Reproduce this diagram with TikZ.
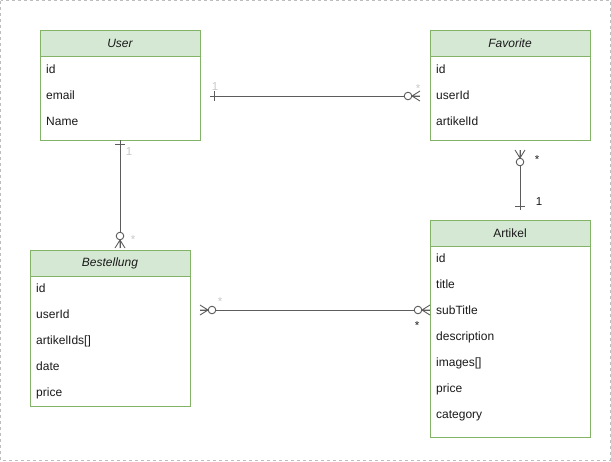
\documentclass[tikz,border=0pt]{standalone}
\usepackage{fontspec}
\setmainfont{Liberation Sans}
\usetikzlibrary{calc}

\definecolor{hdrfill}{HTML}{D5E8D4}
\definecolor{hdrline}{HTML}{82B366}
\definecolor{edgecol}{HTML}{5C5C5C}
\definecolor{faint}{HTML}{C8C8C8}
\definecolor{ink}{HTML}{1A1A1A}
\definecolor{frame}{HTML}{BDBDBD}

\tikzset{
  entbox/.style={draw=hdrline, line width=1pt, fill=white, rectangle,
    anchor=north west, inner sep=0pt, outer sep=0pt, minimum width=160pt},
  enthead/.style={draw=hdrline, line width=1pt, fill=hdrfill, rectangle,
    anchor=north west, inner sep=0pt, outer sep=0pt, minimum width=160pt,
    minimum height=26pt, text=ink, font=\fontsize{12}{14}\selectfont},
  fieldtext/.style={anchor=west, inner sep=0pt, text=ink,
    text height=8.6pt, text depth=2.6pt, yshift=-0.8pt,
    font=\fontsize{12}{14}\selectfont},
  edgeline/.style={draw=edgecol, line width=0.9pt},
  card/.style={inner sep=0pt, font=\fontsize{11.5}{13}\selectfont},
  pics/zeromany/.style={code={
    \draw[edgeline] (-8,0) -- (0,5) (-8,0) -- (0,-5) (-8,0) -- (0,0);
    \draw[edgeline, fill=white] (-12,0) circle[radius=3.8];}},
  pics/exactlyone/.style={code={
    \draw[edgeline] (-4,-5) -- (-4,5);}}
}

% entity box: name, x, y, height, title
\newcommand\entity[5]{%
  \node[entbox, minimum height=#4pt] (#1) at (#2,#3) {};
  \node[enthead] (#1-head) at (#2,#3) {#5};
}
% attribute row: name, x, y, text
\newcommand\attr[4]{\node[fieldtext] (#1) at (#2,#3) {#4};}

\begin{document}
\begin{tikzpicture}[x=1pt,y=-1pt]
\useasboundingbox (0,0) rectangle (611,461);
\draw[frame, line width=0.8pt, dash pattern=on 3pt off 3pt] (0.5,0.5) rectangle (610,460);

% User
\entity{user}{40}{30}{110}{\itshape User}
\attr{user-id}{46}{70}{id}
\attr{user-email}{46}{96}{email}
\attr{user-name}{46}{122}{Name}

% Favorite
\entity{fav}{430}{30}{110}{\itshape Favorite}
\attr{fav-id}{436}{70}{id}
\attr{fav-user}{436}{96}{userId}
\attr{fav-art}{436}{122}{artikelId}

% Bestellung
\entity{best}{30}{250}{156}{\itshape Bestellung}
\attr{best-id}{36}{289}{id}
\attr{best-user}{36}{315}{userId}
\attr{best-arts}{36}{341}{artikelIds[]}
\attr{best-date}{36}{367}{date}
\attr{best-price}{36}{393}{price}

% Artikel
\entity{art}{430}{220}{217}{Artikel}
\attr{art-id}{436}{259}{id}
\attr{art-title}{436}{285}{title}
\attr{art-sub}{436}{311}{subTitle}
\attr{art-desc}{436}{337}{description}
\attr{art-img}{436}{363}{images[]}
\attr{art-price}{436}{389}{price}
\attr{art-cat}{436}{415}{category}

% connector end points
\coordinate (uf-a) at ($(user.north east)+(10,66)$);
\coordinate (uf-b) at ($(fav.north west)+(-10,66)$);
\coordinate (ub-a) at (user.south);
\coordinate (ub-b) at ($(user.south |- best.north)+(0,-2)$);
\coordinate (fa-a) at ($(fav.south west)+(90,10)$);
\coordinate (fa-b) at ($(art.north west)+(90,-10)$);
\coordinate (ba-a) at ($(best.north east)+(10,60)$);
\coordinate (ba-b) at ($(art.north west)+(0,90)$);

% User 1 -- * Favorite
\draw[edgeline] (uf-a) -- (uf-b);
\pic[rotate=180] at (uf-a) {exactlyone};
\pic at (uf-b) {zeromany};
\node[card, text=faint] (uf-la) at (215,87) {1};
\node[card, text=faint] (uf-lb) at (418,89) {*};

% User 1 -- * Bestellung
\draw[edgeline] (ub-a) -- (ub-b);
\pic[rotate=90] at (ub-a) {exactlyone};
\pic[rotate=-90] at (ub-b) {zeromany};
\node[card, text=faint] (ub-la) at (129,152) {1};
\node[card, text=faint] (ub-lb) at (133,240) {*};

% Favorite * -- 1 Artikel
\draw[edgeline] (fa-a) -- (fa-b);
\pic[rotate=90] at (fa-a) {zeromany};
\pic[rotate=-90] at (fa-b) {exactlyone};
\node[card, text=ink] (fa-la) at (537,160) {*};
\node[card, text=ink] (fa-lb) at (539,202) {1};

% Bestellung * -- * Artikel
\draw[edgeline] (ba-a) -- (ba-b);
\pic[rotate=180] at (ba-a) {zeromany};
\pic at (ba-b) {zeromany};
\node[card, text=faint] (ba-la) at (220,302) {*};
\node[card, text=ink] (ba-lb) at (417,326) {*};
\end{tikzpicture}
\end{document}
